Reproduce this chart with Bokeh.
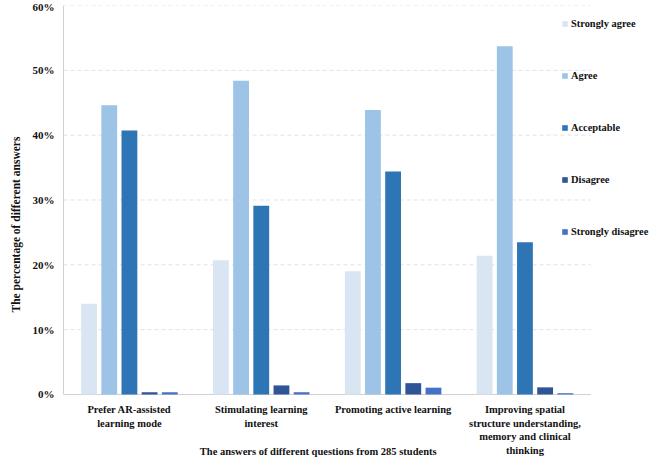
from bokeh.plotting import figure
from bokeh.models import ColumnDataSource, Legend, LegendItem, PrintfTickFormatter, Range1d, FixedTicker, Title
from bokeh.core.properties import value
from bokeh.embed import file_html
from bokeh.resources import INLINE

categories = ["Prefer AR-assisted\nlearning mode",
              "Stimulating learning\ninterest",
              "Promoting active learning",
              "Improving spatial\nstructure understanding,\nmemory and clinical\nthinking"]
series_names = ["Strongly agree", "Agree", "Acceptable", "Disagree", "Strongly disagree"]
strongly_agree = [14.0, 20.7, 19.0, 21.4]
agree = [44.6, 48.4, 43.9, 53.7]
acceptable = [40.7, 29.1, 34.4, 23.5]
disagree = [0.35, 1.4, 1.75, 1.1]
strongly_disagree = [0.35, 0.35, 1.05, 0.2]
y_ticks = [0, 10, 20, 30, 40, 50, 60]
x_title = "The answers of different questions from 285 students"
y_title = "The  percentage  of  different  answers"

colors = ["#dae5f3", "#9dc3e6", "#2e75b6", "#2f5597", "#4472c4"]
FONT = "Liberation Serif"

n = len(categories)
centers = [i + 0.5 for i in range(n)]

# the frame extends to the bottom edge; the band below 0 holds the category labels
p = figure(width=653, height=457, output_backend="svg", toolbar_location=None,
           x_range=Range1d(0, 4.475), y_range=Range1d(-9.72, 60),
           min_border_left=59, min_border_right=0, min_border_top=5, min_border_bottom=0)
p.outline_line_color = None
p.xgrid.grid_line_color = None
p.ygrid.grid_line_color = None
p.xaxis.visible = False

# dashed horizontal gridlines, limited to the category area
gy = y_ticks[1:]
p.segment(x0=[0] * len(gy), x1=[n] * len(gy), y0=gy, y1=gy,
          line_color="#e2e2e2", line_width=1, line_dash="4 3")
# category axis line
p.segment(x0=[0], x1=[n], y0=[y_ticks[0]], y1=[y_ticks[0]], line_color="#d0d0d0", line_width=1)

series = [strongly_agree, agree, acceptable, disagree, strongly_disagree]
offsets = [-0.306, -0.153, 0.0, 0.153, 0.306]
renderers = []
for vals, off, c in zip(series, offsets, colors):
    src = ColumnDataSource(dict(x=[cx + off for cx in centers], top=vals))
    r = p.vbar(x="x", top="top", width=0.12, source=src, fill_color=c, line_color=None)
    renderers.append(r)

# category tick labels
p.text(x=centers, y=[y_ticks[0]] * n, text=categories, text_align="center", text_baseline="top",
       y_offset=10, text_font=value(FONT), text_font_style="bold", text_font_size="10.5px",
       text_line_height=1.22, text_color="#111111")
# x-axis title
p.text(x=[n / 2], y=[y_ticks[0]], text=[x_title], text_align="center", text_baseline="middle",
       x_offset=-9, y_offset=57, text_font=value(FONT), text_font_style="bold",
       text_font_size="10.5px", text_color="#111111")

p.yaxis.ticker = FixedTicker(ticks=y_ticks)
p.yaxis.bounds = (0, 60)
p.yaxis.formatter = PrintfTickFormatter(format="%d%%")
ax = p.yaxis[0]
ax.major_tick_line_color = None
ax.minor_tick_line_color = None
ax.axis_line_color = "#d0d0d0"
ax.major_label_text_font = FONT
ax.major_label_text_font_style = "bold"
ax.major_label_text_color = "#111111"
ax.major_label_text_font_size = "11px"
ax.major_label_standoff = 3

ytitle = Title(text=y_title, align="left", offset=145,
               text_font=FONT, text_font_style="bold", text_font_size="11.5px",
               text_color="#111111", standoff=15)
p.add_layout(ytitle, "left")

legend = Legend(items=[LegendItem(label=nm, renderers=[r]) for nm, r in zip(series_names, renderers)],
                location=(498, 220), orientation="vertical",
                label_text_font=FONT, label_text_font_style="bold", label_text_font_size="10.4px",
                label_text_color="#111111",
                glyph_width=7, glyph_height=7, label_height=12, label_standoff=3,
                spacing=40, padding=0, margin=0,
                border_line_color=None, background_fill_alpha=0)
p.add_layout(legend, "center")

open("out.html", "w").write(file_html(p, INLINE))
